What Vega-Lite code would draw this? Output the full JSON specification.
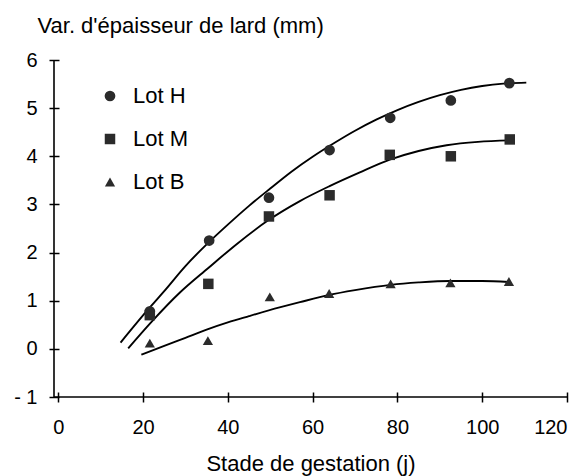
{
  "$schema": "https://vega.github.io/schema/vega-lite/v6.json",
  "width": 513,
  "height": 337,
  "autosize": {"type": "none"},
  "padding": {"left": 54, "top": 60, "right": 16, "bottom": 79},
  "background": "white",
  "config": {
    "view": {"stroke": null},
    "font": "Liberation Sans"
  },
  "datasets": {
    "axisline": [{"v": -1}],
    "points": [
      {"lot": "Lot H", "jour": 21.6, "var": 0.78},
      {"lot": "Lot H", "jour": 35.6, "var": 2.25},
      {"lot": "Lot H", "jour": 49.7, "var": 3.14},
      {"lot": "Lot H", "jour": 64.0, "var": 4.13},
      {"lot": "Lot H", "jour": 78.3, "var": 4.80},
      {"lot": "Lot H", "jour": 92.6, "var": 5.16},
      {"lot": "Lot H", "jour": 106.4, "var": 5.52},
      {"lot": "Lot M", "jour": 21.6, "var": 0.70},
      {"lot": "Lot M", "jour": 35.4, "var": 1.35},
      {"lot": "Lot M", "jour": 49.7, "var": 2.75},
      {"lot": "Lot M", "jour": 64.0, "var": 3.19},
      {"lot": "Lot M", "jour": 78.2, "var": 4.03},
      {"lot": "Lot M", "jour": 92.6, "var": 4.00},
      {"lot": "Lot M", "jour": 106.5, "var": 4.35},
      {"lot": "Lot B", "jour": 21.6, "var": 0.12},
      {"lot": "Lot B", "jour": 35.3, "var": 0.17},
      {"lot": "Lot B", "jour": 49.9, "var": 1.08},
      {"lot": "Lot B", "jour": 63.9, "var": 1.15},
      {"lot": "Lot B", "jour": 78.4, "var": 1.35},
      {"lot": "Lot B", "jour": 92.5, "var": 1.37},
      {"lot": "Lot B", "jour": 106.3, "var": 1.40}
    ],
    "curves": [
      {"lot": "Lot H", "jour": 14.7, "var": 0.13},
      {"lot": "Lot H", "jour": 21.6, "var": 0.86},
      {"lot": "Lot H", "jour": 25, "var": 1.20},
      {"lot": "Lot H", "jour": 30, "var": 1.72},
      {"lot": "Lot H", "jour": 35, "var": 2.17},
      {"lot": "Lot H", "jour": 40, "var": 2.58},
      {"lot": "Lot H", "jour": 45, "var": 2.97},
      {"lot": "Lot H", "jour": 50, "var": 3.33},
      {"lot": "Lot H", "jour": 55, "var": 3.68},
      {"lot": "Lot H", "jour": 60, "var": 3.99},
      {"lot": "Lot H", "jour": 65, "var": 4.27},
      {"lot": "Lot H", "jour": 70, "var": 4.53},
      {"lot": "Lot H", "jour": 75, "var": 4.76},
      {"lot": "Lot H", "jour": 80, "var": 4.96},
      {"lot": "Lot H", "jour": 85, "var": 5.13},
      {"lot": "Lot H", "jour": 90, "var": 5.27},
      {"lot": "Lot H", "jour": 95, "var": 5.38},
      {"lot": "Lot H", "jour": 100, "var": 5.46},
      {"lot": "Lot H", "jour": 105, "var": 5.51},
      {"lot": "Lot H", "jour": 110.4, "var": 5.53},
      {"lot": "Lot M", "jour": 16.5, "var": 0.01},
      {"lot": "Lot M", "jour": 22, "var": 0.56},
      {"lot": "Lot M", "jour": 28.7, "var": 1.17},
      {"lot": "Lot M", "jour": 35.4, "var": 1.68},
      {"lot": "Lot M", "jour": 42, "var": 2.17},
      {"lot": "Lot M", "jour": 49.7, "var": 2.68},
      {"lot": "Lot M", "jour": 57, "var": 3.07},
      {"lot": "Lot M", "jour": 64, "var": 3.38},
      {"lot": "Lot M", "jour": 71, "var": 3.66},
      {"lot": "Lot M", "jour": 78.2, "var": 3.93},
      {"lot": "Lot M", "jour": 85, "var": 4.11},
      {"lot": "Lot M", "jour": 91.6, "var": 4.23},
      {"lot": "Lot M", "jour": 99, "var": 4.30},
      {"lot": "Lot M", "jour": 106.5, "var": 4.33},
      {"lot": "Lot B", "jour": 19.6, "var": -0.12},
      {"lot": "Lot B", "jour": 25, "var": 0.06},
      {"lot": "Lot B", "jour": 30, "var": 0.23},
      {"lot": "Lot B", "jour": 35, "var": 0.40},
      {"lot": "Lot B", "jour": 40, "var": 0.55},
      {"lot": "Lot B", "jour": 45, "var": 0.68},
      {"lot": "Lot B", "jour": 52.2, "var": 0.86},
      {"lot": "Lot B", "jour": 57, "var": 0.97},
      {"lot": "Lot B", "jour": 63.9, "var": 1.12},
      {"lot": "Lot B", "jour": 70, "var": 1.22},
      {"lot": "Lot B", "jour": 78.4, "var": 1.33},
      {"lot": "Lot B", "jour": 85, "var": 1.38},
      {"lot": "Lot B", "jour": 92.5, "var": 1.41},
      {"lot": "Lot B", "jour": 100, "var": 1.41},
      {"lot": "Lot B", "jour": 106.3, "var": 1.39}
    ]
  },
  "layer": [
    {
      "data": {"name": "axisline"},
      "mark": {"type": "rule", "color": "black", "strokeWidth": 1.6},
      "encoding": {"y": {"field": "v", "type": "quantitative"}}
    },
    {
      "data": {"name": "axisline"},
      "mark": {"type": "rule", "color": "black", "strokeWidth": 1.6},
      "encoding": {"x": {"field": "v", "type": "quantitative"}}
    },
    {
      "data": {"name": "curves"},
      "mark": {"type": "line", "color": "black", "strokeWidth": 1.9, "interpolate": "monotone"},
      "encoding": {
        "x": {"field": "jour", "type": "quantitative"},
        "y": {"field": "var", "type": "quantitative"},
        "detail": {"field": "lot"}
      }
    },
    {
      "data": {"name": "points"},
      "mark": {"type": "point", "filled": true, "color": "#2b2b2b", "opacity": 1},
      "encoding": {
        "x": {
          "field": "jour", "type": "quantitative",
          "scale": {"domain": [-1, 120], "nice": false, "zero": false},
          "axis": {
            "values": [0, 20, 40, 60, 80, 100, 120],
            "title": "Stade de gestation (j)",
            "grid": false, "domain": false,
            "offset": -5, "tickSize": 10, "tickColor": "black", "tickWidth": 1.5,
            "labelFontSize": 20, "labelColor": "black", "labelPadding": 15,
            "titleFontSize": 22, "titleFontWeight": "normal", "titleColor": "black", "titlePadding": 16
          }
        },
        "y": {
          "field": "var", "type": "quantitative",
          "scale": {"domain": [-1, 6], "nice": false, "zero": false},
          "axis": {
            "values": [-1, 0, 1, 2, 3, 4, 5, 6],
            "labelExpr": "datum.value == -1 ? '- 1' : datum.label",
            "title": "Var. d'épaisseur de lard (mm)",
            "grid": false, "domain": false,
            "offset": -5, "tickSize": 10, "tickColor": "black", "tickWidth": 1.5,
            "labelFontSize": 20, "labelColor": "black", "labelPadding": 12,
            "titleFontSize": 22, "titleFontWeight": "normal", "titleColor": "black",
            "titleAngle": 0, "titleAlign": "left", "titleBaseline": "alphabetic",
            "titleX": -22, "titleY": -28
          }
        },
        "shape": {
          "field": "lot", "type": "nominal",
          "scale": {"domain": ["Lot H", "Lot M", "Lot B"], "range": ["circle", "square", "triangle-up"]},
          "legend": {
            "orient": "none", "legendX": 45, "legendY": 25, "title": null,
            "labelFontSize": 22, "labelColor": "black", "labelOffset": 12,
            "symbolFillColor": "#2b2b2b", "symbolStrokeColor": "#2b2b2b",
            "rowPadding": 21
          }
        },
        "size": {
          "field": "lot", "type": "nominal",
          "scale": {"domain": ["Lot H", "Lot M", "Lot B"], "range": [115, 105, 160]}
        }
      }
    }
  ]
}
